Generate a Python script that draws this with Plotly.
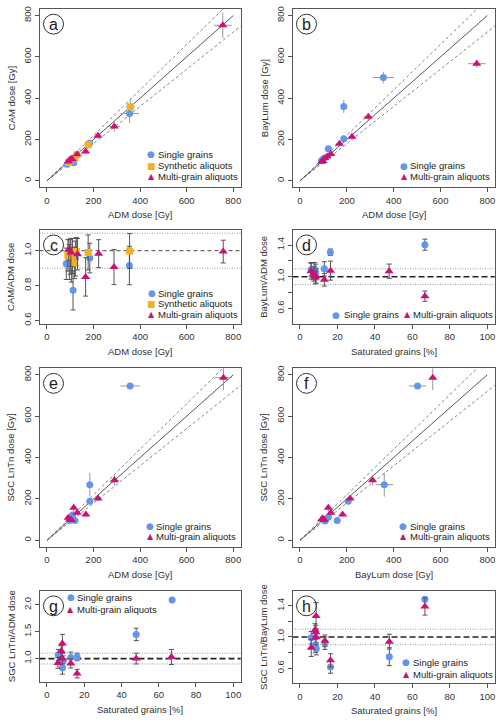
import plotly.graph_objects as go

W, H = 500, 725
BLUE = "#6495ED"
ORANGE = "#F2B21F"
MAGENTA = "#CD1076"
FONT = "Liberation Sans, Arial, sans-serif"

# ---------------- data ----------------
# (a) ADM vs CAM dose
a_sg_x = [87, 100, 108, 115, 183, 355]
a_sg_y = [80, 92, 100, 88, 182, 326]
a_sg_ex = [6, 6, 6, 7, 12, 40]
a_sg_ey = [7, 8, 8, 9, 14, 45]
a_syn_x = [92, 100, 112, 120, 128, 177, 358]
a_syn_y = [89, 97, 108, 112, 126, 175, 358]
a_syn_ex = [5, 5, 6, 6, 7, 10, 20]
a_syn_ey = [8, 8, 9, 10, 10, 15, 42]
a_mg_x = [92, 100, 108, 130, 166, 219, 289, 755]
a_mg_y = [93, 103, 106, 128, 142, 218, 263, 753]
a_mg_ex = [5, 5, 6, 7, 9, 12, 24, 38]
a_mg_ey = [7, 8, 8, 9, 13, 16, 25, 62]

# (b) ADM vs BayLum dose
b_sg_x = [92, 101, 121, 187, 187, 356]
b_sg_y = [98, 108, 155, 204, 360, 500]
b_sg_ex = [5, 6, 7, 12, 12, 45]
b_sg_ey = [6, 7, 8, 10, 32, 28]
b_mg_x = [92, 98, 106, 116, 132, 168, 222, 292, 755]
b_mg_y = [92, 96, 110, 118, 130, 180, 213, 310, 567]
b_mg_ex = [5, 5, 6, 7, 8, 10, 13, 18, 38]
b_mg_ey = [6, 6, 7, 8, 9, 11, 12, 18, 20]

# (c) ADM vs CAM/ADM ratio
c_sg_x = [83, 96, 105, 112, 122, 184, 354]
c_sg_y = [0.925, 0.935, 0.92, 0.773, 0.955, 0.958, 0.915]
c_sg_e = [0.09, 0.10, 0.10, 0.112, 0.10, 0.085, 0.11]
c_syn_x = [90, 100, 110, 119, 126, 177, 355]
c_syn_y = [0.973, 0.965, 0.97, 0.93, 0.996, 0.99, 0.998]
c_syn_e = [0.09, 0.10, 0.10, 0.09, 0.08, 0.10, 0.10]
c_mg_x = [94, 103, 131, 166, 222, 288, 757]
c_mg_y = [1.005, 0.99, 0.98, 0.85, 0.983, 0.906, 0.995]
c_mg_e = [0.06, 0.08, 0.09, 0.11, 0.08, 0.10, 0.065]

# (d) Saturated grains vs BayLum/ADM ratio
d_sg_x = [5.9, 7.7, 8.4, 13.0, 16.2, 66.7]
d_sg_y = [1.09, 1.10, 1.06, 1.10, 1.31, 1.405]
d_sg_e = [0.09, 0.08, 0.10, 0.09, 0.04, 0.07]
d_mg_x = [5.9, 7.3, 8.2, 8.6, 13.0, 16.3, 47.6, 66.7]
d_mg_y = [1.07, 1.035, 0.99, 1.01, 0.962, 1.077, 1.07, 0.755]
d_mg_e = [0.10, 0.09, 0.08, 0.09, 0.08, 0.12, 0.09, 0.065]

# (e) ADM vs SGC LnTn dose
e_sg_x = [98, 110, 120, 184, 184, 357]
e_sg_y = [96, 122, 96, 189, 269, 746]
e_sg_ex = [5, 6, 7, 10, 10, 42]
e_sg_ey = [6, 8, 6, 12, 57, 8]
e_mg_x = [91, 98, 105, 115, 130, 167, 220, 290, 758]
e_mg_y = [109, 101, 98, 157, 133, 125, 202, 290, 786]
e_mg_ex = [5, 5, 6, 6, 7, 10, 12, 20, 38]
e_mg_ey = [8, 7, 7, 20, 10, 9, 13, 25, 60]

# (f) BayLum vs SGC LnTn dose
f_sg_x = [107, 121, 159, 206, 360, 502]
f_sg_y = [93, 112, 96, 189, 269, 746]
f_sg_ex = [6, 7, 8, 10, 37, 37]
f_sg_ey = [6, 8, 6, 12, 58, 8]
f_mg_x = [92, 97, 104, 121, 132, 182, 214, 310, 567]
f_mg_y = [100, 106, 98, 157, 133, 125, 202, 290, 786]
f_mg_ex = [5, 5, 6, 7, 8, 9, 11, 15, 12]
f_mg_ey = [7, 8, 7, 20, 10, 9, 13, 25, 60]

# (g) Saturated grains vs SGC LnTn/ADM ratio
g_sg_x = [6.1, 8.3, 8.6, 12.8, 16.2, 47.9, 67.2]
g_sg_y = [1.07, 0.83, 0.95, 1.02, 1.03, 1.45, 2.09]
g_sg_e = [0.10, 0.12, 0.10, 0.10, 0.07, 0.115, 0.0]
g_mg_x = [5.9, 7.7, 8.3, 8.3, 12.8, 16.2, 47.9, 66.8]
g_mg_y = [0.92, 1.14, 1.00, 1.28, 0.91, 0.72, 1.00, 1.03]
g_mg_e = [0.10, 0.10, 0.10, 0.17, 0.085, 0.08, 0.10, 0.14]

# (h) Saturated grains vs SGC LnTn/BayLum ratio
h_sg_x = [6.0, 8.2, 8.7, 13.3, 16.3, 47.7, 66.7]
h_sg_y = [0.99, 0.90, 0.85, 0.92, 0.615, 0.747, 1.484]
h_sg_e = [0.08, 0.10, 0.08, 0.08, 0.08, 0.115, 0.02]
h_mg_x = [6.0, 8.0, 8.4, 8.6, 8.6, 13.3, 16.3, 47.7, 66.7]
h_mg_y = [0.86, 1.09, 1.06, 1.00, 1.27, 0.95, 0.70, 0.94, 1.39]
h_mg_e = [0.11, 0.08, 0.09, 0.10, 0.17, 0.075, 0.085, 0.095, 0.11]

dose_ticks = [0, 200, 400, 600, 800]
sat_ticks = [0, 20, 40, 60, 80, 100]

# ---------------- layout geometry (pixels) ----------------
L_COL = (39.5, 240.7)
R_COL = (292.5, 494.8)
panels = [
    ("a", L_COL, 6, 185.7, (-32, 832), (-32, 832), dose_ticks, dose_ticks, None, "ADM dose [Gy]", "CAM dose [Gy]"),
    ("b", R_COL, 6, 185.7, (-32, 832), (-32, 832), dose_ticks, dose_ticks, None, "ADM dose [Gy]", "BayLum dose [Gy]"),
    ("c", L_COL, 228.3, 323.3, (-32, 832), (0.58, 1.12), dose_ticks, [0.6, 0.8, 1.0], ["0.6", "0.8", "1.0"], "ADM dose [Gy]", "CAM/ADM dose"),
    ("d", R_COL, 228.3, 323.0, (-4, 104), (0.406, 1.594), sat_ticks, [0.6, 0.8, 1.0, 1.2, 1.4], ["0.6", "", "1.0", "", "1.4"], "Saturated grains [%]", "BayLum/ADM dose"),
    ("e", L_COL, 367.7, 547.7, (-32, 832), (-32, 832), dose_ticks, dose_ticks, None, "ADM dose [Gy]", "SGC LnTn dose [Gy]"),
    ("f", R_COL, 367.7, 547.7, (-32, 832), (-32, 832), dose_ticks, dose_ticks, None, "BayLum dose [Gy]", "SGC LnTn dose [Gy]"),
    ("g", L_COL, 591.7, 683.5, (-4, 104), (0.568, 2.265), sat_ticks, [1.0, 1.5, 2.0], ["1.0", "1.5", "2.0"], "Saturated grains [%]", "SGC LnTn/ADM dose"),
    ("h", R_COL, 591.7, 685.0, (-4, 104), (0.406, 1.594), sat_ticks, [0.6, 0.8, 1.0, 1.2, 1.4], ["0.6", "", "1.0", "", "1.4"], "Saturated grains [%]", "SGC LnTn/BayLum dose"),
]

fig = go.Figure()
layout = dict(width=W, height=H, margin=dict(l=0, r=0, t=0, b=0), autosize=False,
              paper_bgcolor="white", plot_bgcolor="white", showlegend=False,
              font=dict(family=FONT, size=9.5, color="#333"))
shapes = []
annotations = []

def px(x):
    return x / W

def py(y):
    return 1 - y / H

for i, (let, xc, yt, yb, xr, yr, xt, yt_v, ytt, xtitle, ytitle) in enumerate(panels, start=1):
    sfx = "" if i == 1 else str(i)
    axstyle = dict(showline=True, mirror=True, linecolor="#555", linewidth=1,
                   ticks="outside", ticklen=4, tickcolor="#555", tickwidth=1,
                   showgrid=False, zeroline=False, tickfont=dict(family=FONT, size=9.5, color="#333"))
    layout["xaxis" + sfx] = dict(domain=[px(xc[0]), px(xc[1])], range=list(xr), anchor="y" + sfx,
                                 tickvals=xt, **axstyle)
    yax = dict(domain=[py(yb), py(yt)], range=list(yr), anchor="x" + sfx,
               tickvals=yt_v, tickangle=-90, **axstyle)
    if ytt is not None:
        yax["ticktext"] = ytt
    layout["yaxis" + sfx] = yax
    annotations.append(dict(text=xtitle, xref="paper", yref="paper", x=px((xc[0] + xc[1]) / 2),
                            y=py(yb + 27.5), xanchor="center", yanchor="middle", showarrow=False,
                            font=dict(family=FONT, size=9.5, color="#333")))
    annotations.append(dict(text=ytitle, xref="paper", yref="paper", x=px(xc[0] - 28.5),
                            y=py((yt + yb) / 2), xanchor="center", yanchor="middle", showarrow=False,
                            textangle=-90, font=dict(family=FONT, size=9.5, color="#333")))
    cx, cy, r = xc[0] + 14, yt + 15.3, 10
    shapes.append(dict(type="circle", xref="paper", yref="paper", x0=px(cx - r), x1=px(cx + r),
                       y0=py(cy + r), y1=py(cy - r), line=dict(color="#333", width=1)))
    annotations.append(dict(text=let, xref="paper", yref="paper", x=px(cx), y=py(cy + 0.5),
                            xanchor="center", yanchor="middle", showarrow=False,
                            font=dict(family=FONT, size=16, color="#222")))

fig.update_layout(**layout)

def ax_ids(i):
    sfx = "" if i == 1 else str(i)
    return "x" + sfx, "y" + sfx

def ref_lines(i):
    xa, ya = ax_ids(i)
    fig.add_trace(go.Scatter(x=[0, 900], y=[0, 990], mode="lines", xaxis=xa, yaxis=ya,
                             line=dict(color="#777", width=0.9, dash="3px,2.5px"), hoverinfo="skip"))
    fig.add_trace(go.Scatter(x=[0, 900], y=[0, 810], mode="lines", xaxis=xa, yaxis=ya,
                             line=dict(color="#777", width=0.9, dash="3px,2.5px"), hoverinfo="skip"))
    fig.add_trace(go.Scatter(x=[0, 800], y=[0, 800], mode="lines", xaxis=xa, yaxis=ya,
                             line=dict(color="#444", width=0.9), hoverinfo="skip"))

def hlines(i, thick=True):
    xa, ya = ax_ids(i)
    for v in (0.9, 1.1):
        shapes.append(dict(type="line", xref=xa + " domain", yref=ya, x0=0, x1=1, y0=v, y1=v,
                           line=dict(color="#999", width=1, dash="1px,1.5px"), layer="below"))
    if thick:
        shapes.append(dict(type="line", xref=xa + " domain", yref=ya, x0=0, x1=1, y0=1, y1=1,
                           line=dict(color="#222", width=1.6, dash="6px,3px"), layer="below"))
    else:
        shapes.append(dict(type="line", xref=xa + " domain", yref=ya, x0=0, x1=1, y0=1, y1=1,
                           line=dict(color="#444", width=1, dash="4px,3px"), layer="below"))

SYM = {"sg": ("circle", BLUE, 7), "syn": ("square", ORANGE, 7), "mg": ("triangle-up", MAGENTA, 8)}

def pts_xy(i, kind, x, y, ex, ey):
    xa, ya = ax_ids(i)
    s, c, sz = SYM[kind]
    fig.add_trace(go.Scatter(x=x, y=y, mode="markers", xaxis=xa, yaxis=ya,
                             marker=dict(symbol=s, color=c, size=sz, line=dict(width=0)),
                             error_x=dict(type="data", array=ex, color="#999", thickness=1, width=0),
                             error_y=dict(type="data", array=ey, color="#999", thickness=1, width=0)))

def pts_ratio(i, kind, x, y, ey):
    xa, ya = ax_ids(i)
    s, c, sz = SYM[kind]
    fig.add_trace(go.Scatter(x=x, y=y, mode="markers", xaxis=xa, yaxis=ya,
                             marker=dict(symbol=s, color=c, size=sz, line=dict(width=0)),
                             error_y=dict(type="data", array=ey, color="#555", thickness=1, width=2.5)))

ref_lines(1)
pts_xy(1, "sg", a_sg_x, a_sg_y, a_sg_ex, a_sg_ey)
pts_xy(1, "syn", a_syn_x, a_syn_y, a_syn_ex, a_syn_ey)
pts_xy(1, "mg", a_mg_x, a_mg_y, a_mg_ex, a_mg_ey)
ref_lines(2)
pts_xy(2, "sg", b_sg_x, b_sg_y, b_sg_ex, b_sg_ey)
pts_xy(2, "mg", b_mg_x, b_mg_y, b_mg_ex, b_mg_ey)
hlines(3, thick=False)
pts_ratio(3, "sg", c_sg_x, c_sg_y, c_sg_e)
pts_ratio(3, "syn", c_syn_x, c_syn_y, c_syn_e)
pts_ratio(3, "mg", c_mg_x, c_mg_y, c_mg_e)
hlines(4)
pts_ratio(4, "sg", d_sg_x, d_sg_y, d_sg_e)
pts_ratio(4, "mg", d_mg_x, d_mg_y, d_mg_e)
ref_lines(5)
pts_xy(5, "sg", e_sg_x, e_sg_y, e_sg_ex, e_sg_ey)
pts_xy(5, "mg", e_mg_x, e_mg_y, e_mg_ex, e_mg_ey)
ref_lines(6)
pts_xy(6, "sg", f_sg_x, f_sg_y, f_sg_ex, f_sg_ey)
pts_xy(6, "mg", f_mg_x, f_mg_y, f_mg_ex, f_mg_ey)
hlines(7)
pts_ratio(7, "sg", g_sg_x, g_sg_y, g_sg_e)
pts_ratio(7, "mg", g_mg_x, g_mg_y, g_mg_e)
hlines(8)
pts_ratio(8, "sg", h_sg_x, h_sg_y, h_sg_e)
pts_ratio(8, "mg", h_mg_x, h_mg_y, h_mg_e)

# ---------------- legends (text keys) ----------------
GLYPH = {"sg": ("●", BLUE, 9), "syn": ("■", ORANGE, 9), "mg": ("▲", MAGENTA, 8)}
LABEL = {"sg": "Single grains", "syn": "Synthetic aliquots", "mg": "Multi-grain aliquots"}

def legend_item(kind, mx, my, tx):
    g, c, s = GLYPH[kind]
    annotations.append(dict(text=g, xref="paper", yref="paper", x=px(mx), y=py(my),
                            xanchor="center", yanchor="middle", showarrow=False,
                            font=dict(family="DejaVu Sans", size=s, color=c)))
    annotations.append(dict(text=LABEL[kind], xref="paper", yref="paper", x=px(tx - 1), y=py(my),
                            xanchor="left", yanchor="middle", showarrow=False,
                            font=dict(family=FONT, size=9.5, color="#222")))

legend_item("sg", 151, 152.3, 157.3)
legend_item("syn", 151, 164, 157.3)
legend_item("mg", 151, 174.3, 157.3)
legend_item("sg", 404, 164, 409.3)
legend_item("mg", 404, 174.7, 409.3)
legend_item("sg", 151.7, 292.3, 157.3)
legend_item("syn", 151.7, 302.7, 157.3)
legend_item("mg", 151.7, 314, 157.3)
legend_item("sg", 336, 314, 343.3)
legend_item("mg", 407.7, 314, 412.3)
legend_item("sg", 150, 526.7, 155)
legend_item("mg", 150, 537.3, 155)
legend_item("sg", 403.3, 526.7, 409.3)
legend_item("mg", 403.3, 537.3, 409.3)
legend_item("sg", 70.7, 598.3, 76)
legend_item("mg", 70.7, 610.7, 76)
legend_item("sg", 406, 664, 412.3)
legend_item("mg", 406, 676, 412.3)

fig.update_layout(shapes=shapes, annotations=annotations)
fig.write_html("out.html", config={"displayModeBar": False},
               post_script="document.body.style.margin='0';document.body.style.padding='0';"
                           "document.body.style.overflow='hidden';")
